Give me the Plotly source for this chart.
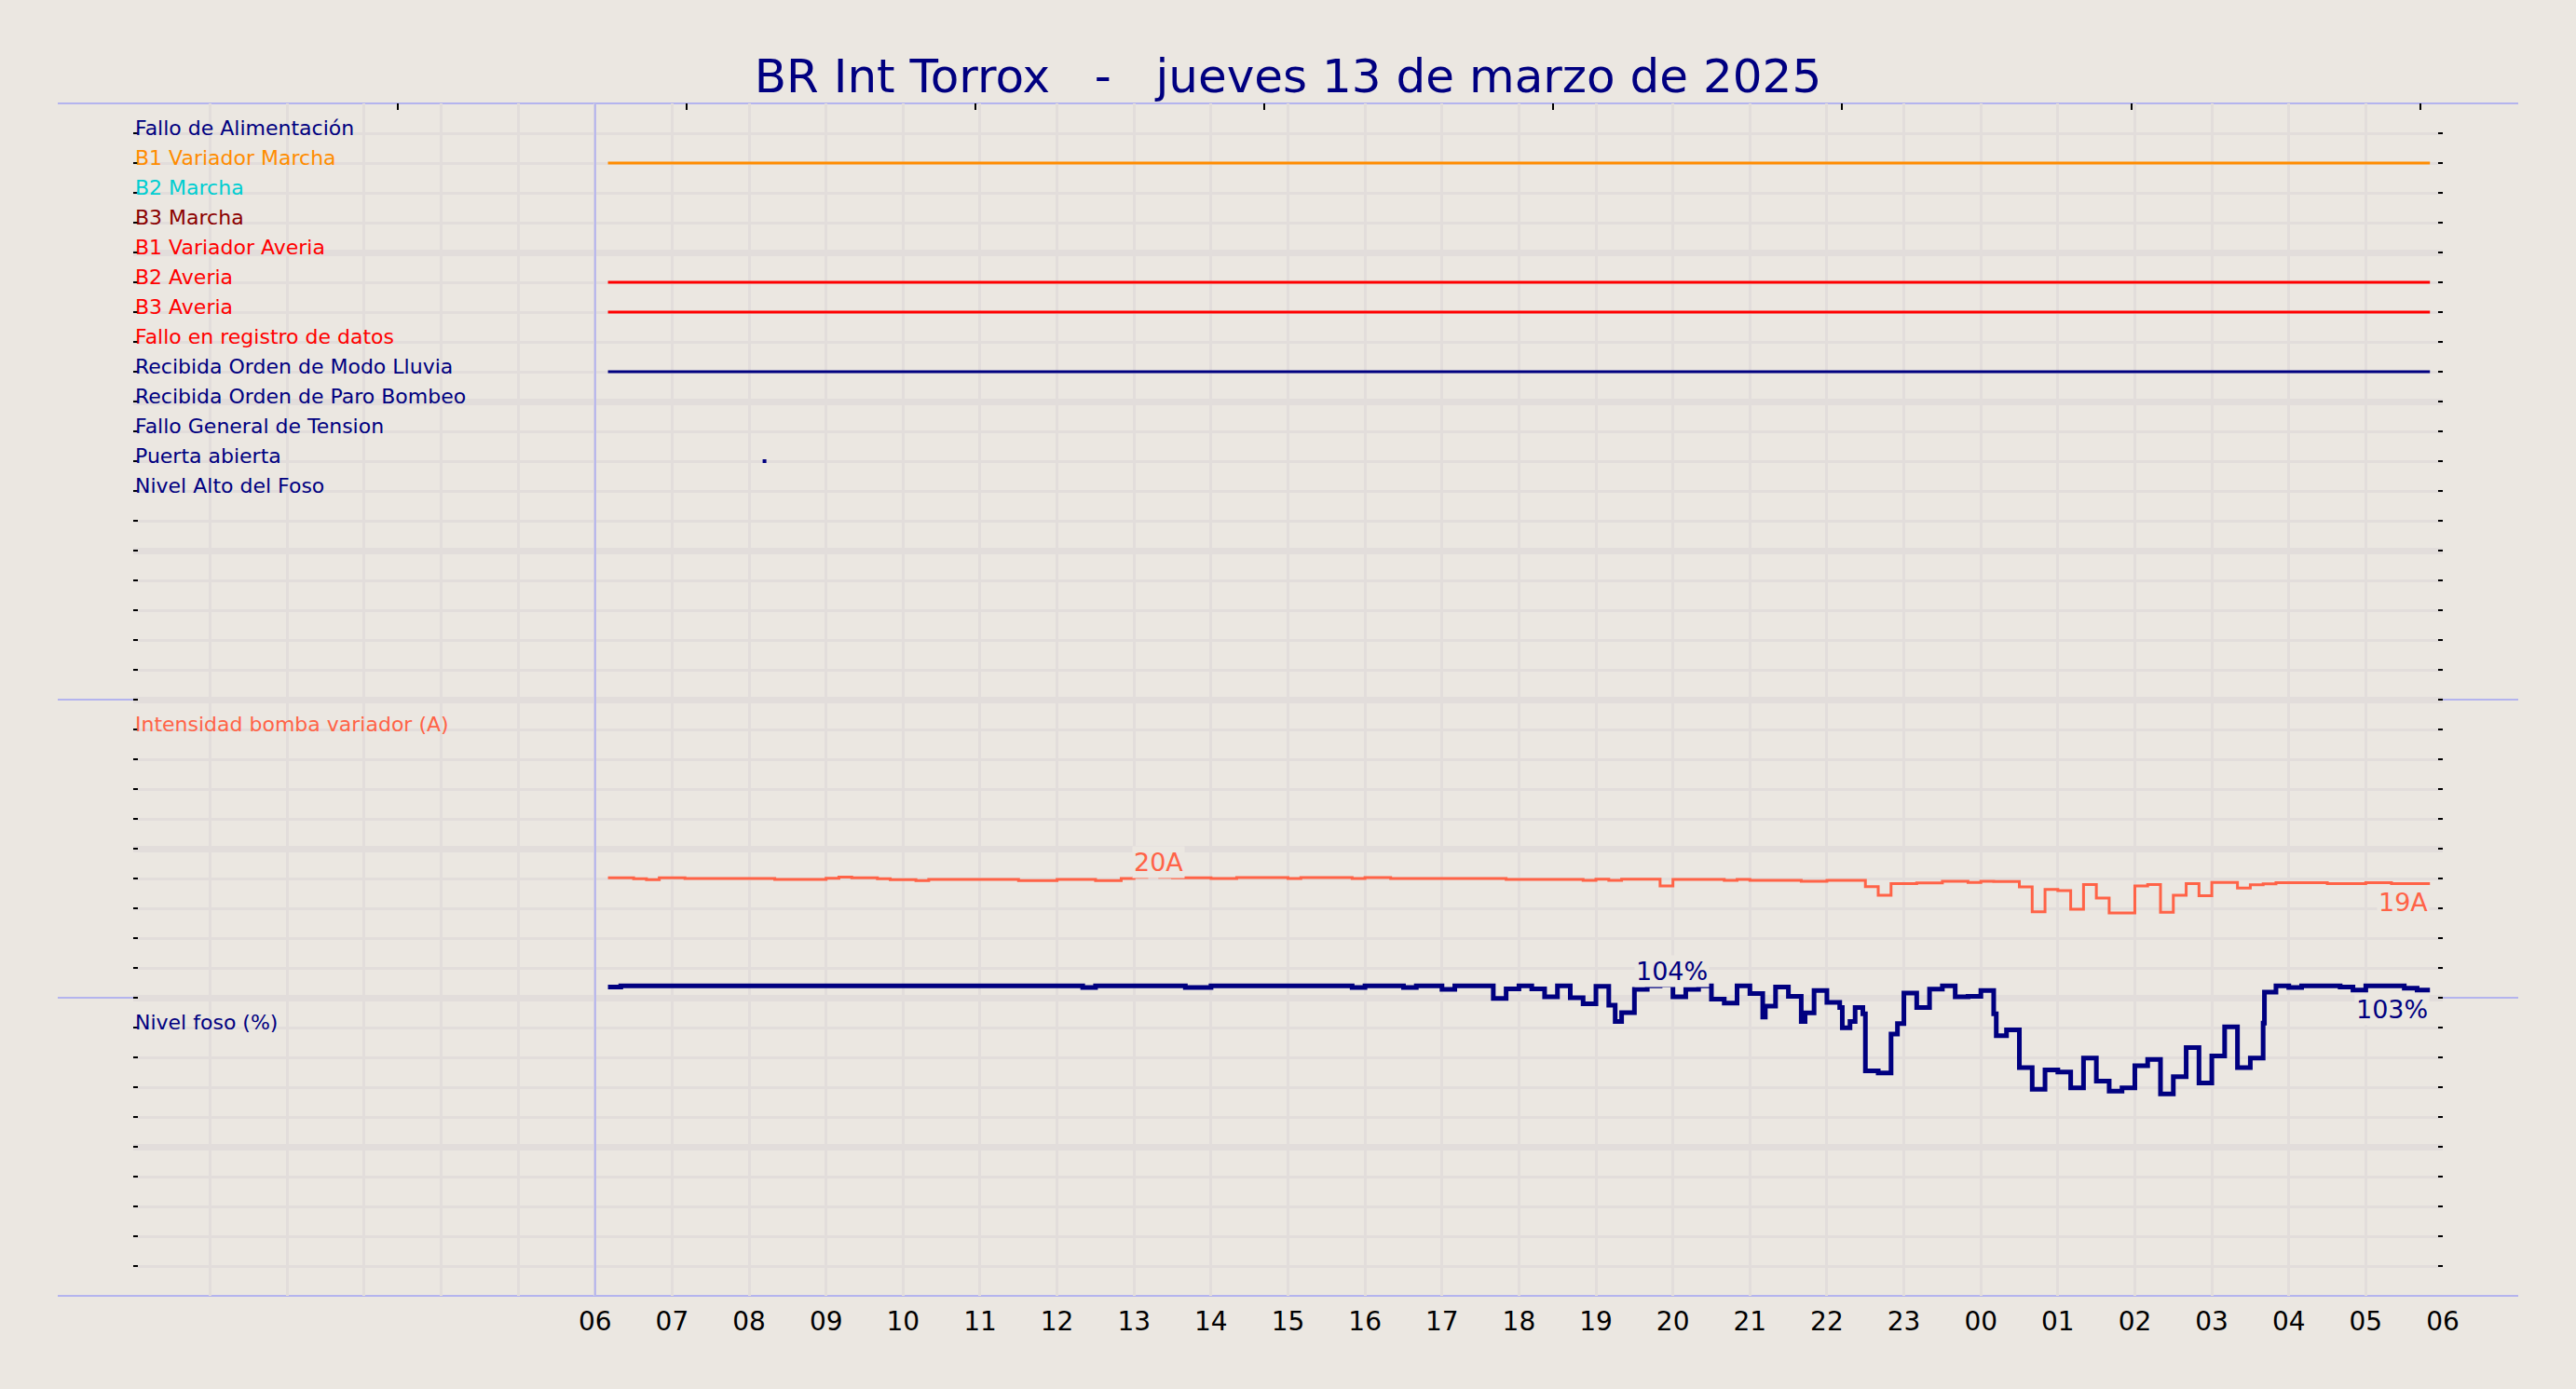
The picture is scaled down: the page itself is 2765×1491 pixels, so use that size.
import pandas as pd
import plotly.graph_objects as go

# ---------------- data ----------------
station = "BR Int Torrox"
day_text = "jueves 13 de marzo de 2025"
x_start = "2025-03-13 00:00"
x_end = "2025-03-14 06:00"
first_labelled_hour = "2025-03-13 06:00"

signal_names = [
    "Fallo de Alimentación", "B1 Variador Marcha", "B2 Marcha", "B3 Marcha",
    "B1 Variador Averia", "B2 Averia", "B3 Averia", "Fallo en registro de datos",
    "Recibida Orden de Modo Lluvia", "Recibida Orden de Paro Bombeo",
    "Fallo General de Tension", "Puerta abierta", "Nivel Alto del Foso",
]
signal_colors = [
    "navy", "darkorange", "darkturquoise", "darkred",
    "red", "red", "red", "red",
    "navy", "navy", "navy", "navy", "navy",
]
signal_on_from = [None, "2025-03-13 06:10", None, None, None, "2025-03-13 06:10",
                  "2025-03-13 06:10", None, "2025-03-13 06:10", None, None,
                  "2025-03-13 08:12", None]
signal_on_to = [None, "2025-03-14 05:50", None, None, None, "2025-03-14 05:50",
                "2025-03-14 05:50", None, "2025-03-14 05:50", None, None,
                "2025-03-13 08:12", None]

intensity_label = "Intensidad bomba variador (A)"
intensity_times = pd.date_range("2025-03-13 06:10", "2025-03-14 05:50", freq="10min")
intensity_values = [
    20.1, 20.1, 19.95, 19.8, 20.1,                 # 06
    20.1, 20.0, 20.0, 20.0, 20.0, 20.0,            # 07
    20.0, 20.0, 19.85, 19.85, 19.85, 19.85,        # 08
    20.05, 20.25, 20.1, 20.1, 19.95, 19.8,         # 09
    19.8, 19.65, 19.85, 19.85, 19.85, 19.85,       # 10
    19.85, 19.85, 19.85, 19.65, 19.65, 19.65,      # 11
    19.85, 19.85, 19.85, 19.65, 19.65, 20.0,       # 12
    20.2, 20.35, 20.2, 20.1, 20.1, 20.1,           # 13
    20.0, 20.0, 20.15, 20.15, 20.15, 20.15,        # 14
    20.0, 20.15, 20.15, 20.15, 20.15, 20.0,        # 15
    20.15, 20.15, 20.0, 20.0, 20.0, 20.0,          # 16
    20.0, 20.0, 20.0, 20.0, 20.0, 19.85,           # 17
    19.85, 19.85, 19.85, 19.85, 19.85, 19.7,       # 18
    19.9, 19.7, 19.9, 19.9, 19.9, 18.75,           # 19
    19.85, 19.85, 19.85, 19.85, 19.7, 19.85,       # 20
    19.7, 19.7, 19.7, 19.7, 19.55, 19.55,          # 21
    19.7, 19.7, 19.7, 18.65, 17.2, 19.15,          # 22
    19.15, 19.25, 19.25, 19.55, 19.55, 19.35,      # 23
    19.55, 19.5, 19.5, 18.6, 14.4, 18.15,          # 00
    17.95, 14.85, 19.0, 16.7, 14.2, 14.2,          # 01
    18.75, 19.0, 14.35, 17.2, 19.15, 17.1,         # 02
    19.35, 19.35, 18.4, 18.95, 19.1, 19.3,         # 03
    19.3, 19.3, 19.3, 19.15, 19.15, 19.15,         # 04
    19.3, 19.3, 19.15, 19.15, 19.15, 19.15,        # 05
]

level_label = "Nivel foso (%)"
level_times = [
    "2025-03-13 06:10", "2025-03-13 06:20", "2025-03-13 12:20", "2025-03-13 12:30",
    "2025-03-13 13:40", "2025-03-13 14:00", "2025-03-13 15:50", "2025-03-13 16:00",
    "2025-03-13 16:30", "2025-03-13 16:40", "2025-03-13 17:00", "2025-03-13 17:10",
    "2025-03-13 17:40", "2025-03-13 17:50", "2025-03-13 18:00", "2025-03-13 18:10",
    "2025-03-13 18:20", "2025-03-13 18:30", "2025-03-13 18:40", "2025-03-13 18:50",
    "2025-03-13 19:00", "2025-03-13 19:10", "2025-03-13 19:15", "2025-03-13 19:20",
    "2025-03-13 19:30", "2025-03-13 19:40", "2025-03-13 19:50", "2025-03-13 20:00",
    "2025-03-13 20:10", "2025-03-13 20:20", "2025-03-13 20:30", "2025-03-13 20:40",
    "2025-03-13 20:50", "2025-03-13 21:00", "2025-03-13 21:10", "2025-03-13 21:12",
    "2025-03-13 21:20", "2025-03-13 21:30", "2025-03-13 21:40", "2025-03-13 21:43",
    "2025-03-13 21:50", "2025-03-13 22:00", "2025-03-13 22:10", "2025-03-13 22:12",
    "2025-03-13 22:18", "2025-03-13 22:22", "2025-03-13 22:28", "2025-03-13 22:30",
    "2025-03-13 22:40", "2025-03-13 22:50", "2025-03-13 22:55", "2025-03-13 23:00",
    "2025-03-13 23:10", "2025-03-13 23:20", "2025-03-13 23:30", "2025-03-13 23:40",
    "2025-03-13 23:50", "2025-03-14 00:00", "2025-03-14 00:10", "2025-03-14 00:12",
    "2025-03-14 00:20", "2025-03-14 00:30", "2025-03-14 00:40", "2025-03-14 00:50",
    "2025-03-14 01:00", "2025-03-14 01:10", "2025-03-14 01:20", "2025-03-14 01:30",
    "2025-03-14 01:40", "2025-03-14 01:50", "2025-03-14 02:00", "2025-03-14 02:10",
    "2025-03-14 02:20", "2025-03-14 02:30", "2025-03-14 02:40", "2025-03-14 02:50",
    "2025-03-14 03:00", "2025-03-14 03:10", "2025-03-14 03:20", "2025-03-14 03:30",
    "2025-03-14 03:40", "2025-03-14 03:41", "2025-03-14 03:50", "2025-03-14 04:00",
    "2025-03-14 04:10", "2025-03-14 04:40", "2025-03-14 04:50", "2025-03-14 05:00",
    "2025-03-14 05:30", "2025-03-14 05:40", "2025-03-14 05:50",
]
level_values = [
    103.6, 104.0, 103.4, 104.0,
    103.4, 104.0, 103.4, 104.0,
    103.4, 104.0, 102.8, 104.0,
    99.8, 103.0, 104.0, 103.0,
    100.3, 104.0, 100.0, 98.0,
    103.8, 97.5, 92.0, 95.0,
    102.8, 104.0, 104.3, 100.3,
    102.8, 104.0, 99.5, 98.2,
    104.0, 101.4, 93.5, 97.2,
    103.6, 100.5, 92.0, 94.9,
    102.4, 98.4, 96.7, 89.9,
    92.0, 96.7, 94.6, 75.5,
    74.8, 87.8, 91.3, 101.6,
    96.7, 102.9, 104.0, 100.3,
    100.5, 102.4, 94.6, 87.3,
    89.2, 76.6, 69.3, 75.8,
    75.1, 69.8, 79.8, 72.0,
    68.7, 69.8, 77.2, 79.3,
    67.7, 73.5, 83.3, 71.4,
    80.5, 90.2, 76.6, 79.8,
    91.5, 101.9, 104.0, 103.4,
    104.0, 103.6, 102.6, 104.0,
    103.2, 102.6, 102.6,
]

# ---------------- style ----------------
FONT = "DejaVu Sans"
BG = "#ebe7e1"
GRID = "#e2dddb"
SEP = "#b4b4ee"
NAVY = "navy"
TOMATO = "tomato"
W, H = 2765, 1491
ML, MR, MT, MB = 143, 143, 111, 100
N_ROWS = 40            # grid rows in the whole plotting area (row 0 at top)
TOP_TICK_FIRST, TOP_TICK_STEP = 3.44, 3.752
LABEL_SHIFT = -8.5

fig = go.Figure()

# digital signals (top panel, one row each) on the main row axis
for k, (name, color, t0, t1) in enumerate(
        zip(signal_names, signal_colors, signal_on_from, signal_on_to), start=1):
    if t0 is None:
        x, y, mode = [None], [None], "lines"
    elif t0 == t1:
        x, y, mode = [t0], [k], "markers"
    else:
        x, y, mode = [t0, t1], [k, k], "lines"
    fig.add_trace(go.Scatter(x=x, y=y, mode=mode, xaxis="x", yaxis="y", name=name,
                             line=dict(color=color, width=3),
                             marker=dict(symbol="square", size=4, color=color),
                             hoverinfo="skip", showlegend=False))

fig.add_trace(go.Scatter(x=intensity_times, y=intensity_values, mode="lines", yaxis="y2",
                         line=dict(color=TOMATO, width=3, shape="hv"),
                         name=intensity_label, showlegend=False))
fig.add_trace(go.Scatter(x=level_times, y=level_values, mode="lines", yaxis="y3",
                         line=dict(color=NAVY, width=5, shape="hv"),
                         name=level_label, showlegend=False))
# empty trace to carry the top tick axis
fig.add_trace(go.Scatter(x=[None], y=[None], xaxis="x2", yaxis="y", showlegend=False,
                         hoverinfo="skip"))

# x ticks: gridline every hour, labels from 06 on
hours = pd.date_range(x_start, x_end, freq="1h")
hour_text = ["" if h < pd.Timestamp(first_labelled_hour) else h.strftime("%H") for h in hours]

annotations = []
for k, (name, color) in enumerate(zip(signal_names, signal_colors), start=1):
    annotations.append(dict(text=name, x=0, xref="paper", xanchor="left", y=k, yref="y",
                            yanchor="bottom", yshift=LABEL_SHIFT, showarrow=False,
                            font=dict(family=FONT, size=22, color=color)))
annotations.append(dict(text=intensity_label, x=0, xref="paper", xanchor="left", y=45,
                        yref="y2", yanchor="bottom", yshift=LABEL_SHIFT, showarrow=False,
                        font=dict(family=FONT, size=22, color=TOMATO)))
annotations.append(dict(text=level_label, x=0, xref="paper", xanchor="left", y=90,
                        yref="y3", yanchor="bottom", yshift=LABEL_SHIFT, showarrow=False,
                        font=dict(family=FONT, size=22, color=NAVY)))

# max / last value labels
i_max = max(range(len(intensity_values)), key=lambda i: intensity_values[i])
l_max = max(range(len(level_values)), key=lambda i: level_values[i])
val_font = 27
annotations += [
    dict(text=f"{round(intensity_values[i_max])}A", x=intensity_times[i_max], y=intensity_values[i_max],
         yref="y2", xanchor="center", yanchor="bottom", xshift=12, yshift=-2, showarrow=False,
         bgcolor=BG, borderpad=1, font=dict(family=FONT, size=val_font, color=TOMATO)),
    dict(text=f"{round(intensity_values[-1])}A", x=intensity_times[-1], y=intensity_values[-1],
         yref="y2", xanchor="right", yanchor="top", yshift=-3, showarrow=False,
         bgcolor=BG, borderpad=1, font=dict(family=FONT, size=val_font, color=TOMATO)),
    dict(text=f"{round(level_values[l_max])}%", x=level_times[l_max], y=level_values[l_max],
         yref="y3", xanchor="center", yanchor="bottom", xshift=13, yshift=-3, showarrow=False,
         bgcolor=BG, borderpad=1, font=dict(family=FONT, size=val_font, color=NAVY)),
    dict(text=f"{round(level_values[-1])}%", x=level_times[-1], y=level_values[-1],
         yref="y3", xanchor="right", yanchor="top", yshift=-3, showarrow=False,
         bgcolor=BG, borderpad=1, font=dict(family=FONT, size=val_font, color=NAVY)),
]

# separators
sep_ext = 81 / (W - ML - MR)
shapes = []
for frac in (1.0, 0.5, 0.25, 0.0):
    shapes.append(dict(type="line", xref="paper", yref="paper", x0=-sep_ext, x1=1 + sep_ext,
                       y0=frac, y1=frac, line=dict(color=SEP, width=2), layer="between"))
shapes.append(dict(type="line", xref="x", yref="paper", x0=first_labelled_hour,
                   x1=first_labelled_hour, y0=0, y1=1, line=dict(color=SEP, width=2),
                   layer="above"))

fig.update_layout(
    width=W, height=H,
    margin=dict(l=ML, r=MR, t=MT, b=MB, pad=0),
    paper_bgcolor=BG, plot_bgcolor="rgba(0,0,0,0)",
    font=dict(family=FONT, color="black"),
    title=dict(text=f"{station}   -   {day_text}", x=0.5, xanchor="center",
               y=1 - 81 / H, yanchor="middle", yref="container",
               font=dict(family=FONT, size=50, color=NAVY)),
    showlegend=False,
    xaxis=dict(type="date", range=[x_start, x_end], tickvals=list(hours), ticktext=hour_text,
               showgrid=True, gridcolor=GRID, gridwidth=3, ticks="", showline=False,
               zeroline=False, tickfont=dict(family=FONT, size=28, color="black"),
               ticklabelstandoff=8, layer="below traces"),
    xaxis2=dict(range=[0, 30], overlaying="x", side="top",
                tickvals=[TOP_TICK_FIRST + TOP_TICK_STEP * i for i in range(8)],
                ticks="inside", ticklen=7, tickwidth=2, tickcolor="black",
                showticklabels=False, showgrid=False, zeroline=False, showline=False),
    yaxis=dict(range=[N_ROWS, 0], tick0=0, dtick=5, showgrid=True, gridcolor=GRID, gridwidth=7,
               ticks="inside", ticklen=5, tickwidth=2, tickcolor="black",
               showticklabels=False, zeroline=False, showline=False, mirror="ticks",
               minor=dict(tick0=0, dtick=1, showgrid=True, gridcolor=GRID, gridwidth=3,
                          ticks="inside", ticklen=5, tickwidth=2, tickcolor="black")),
    yaxis2=dict(range=[-50, 150], overlaying="y", visible=False),
    yaxis3=dict(range=[0, 400], overlaying="y", visible=False),
    annotations=annotations,
    shapes=shapes,
)

fig.write_html("out.html", config={"displayModeBar": False},
               post_script="document.body.style.margin='0';document.body.style.overflow='hidden';")
